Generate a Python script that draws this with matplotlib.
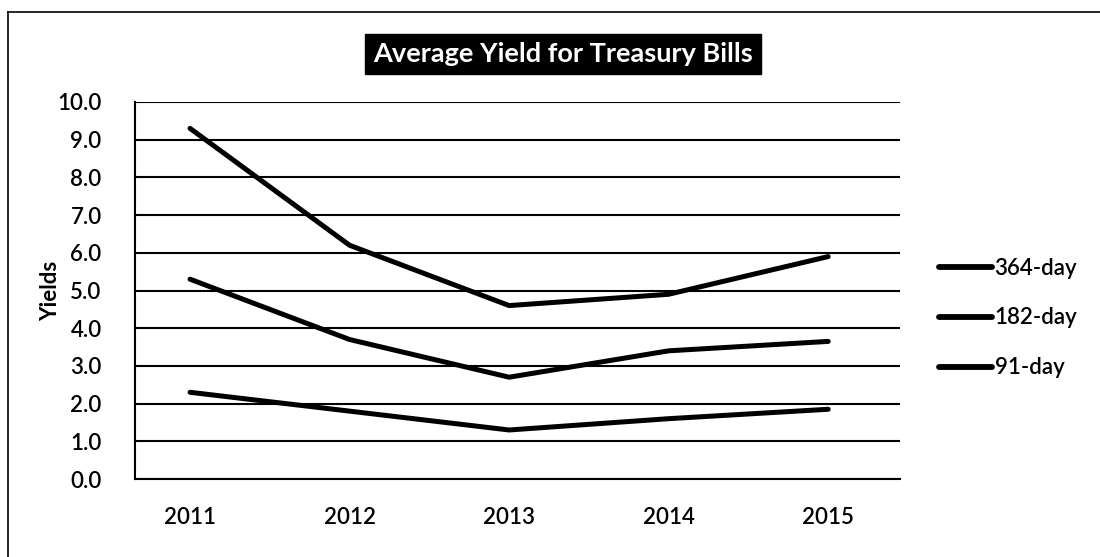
import matplotlib
matplotlib.use("Agg")
import matplotlib.pyplot as plt
from matplotlib.lines import Line2D

years = ["2011", "2012", "2013", "2014", "2015"]
series_names = ["364-day", "182-day", "91-day"]
yield_364 = [9.3, 6.2, 4.6, 4.9, 5.9]
yield_182 = [5.3, 3.7, 2.7, 3.4, 3.65]
yield_91 = [2.3, 1.8, 1.3, 1.6, 1.85]
yticks = [0, 1, 2, 3, 4, 5, 6, 7, 8, 9, 10]

plt.rcParams['font.family'] = ['Lato', 'DejaVu Sans']
FS = 16

fig = plt.figure(figsize=(11, 5.57), dpi=100)
ax = fig.add_axes([135/1100, 1-479/557, (900-135)/1100, (479-102)/557])

x = list(range(len(years)))
for vals, name in zip([yield_364, yield_182, yield_91], series_names):
    ax.plot(x, vals, color='black', lw=3.6, solid_capstyle='round', label=name, zorder=3)

ax.set_ylim(0, 10)
ax.set_xlim(-0.345, 4.45)
ax.set_yticks(yticks)
ax.set_yticklabels([f"{v:.1f}" for v in yticks], fontsize=FS, fontweight='semibold')
ax.set_xticks(x)
ax.set_xticklabels(years, fontsize=FS, fontweight='semibold')
ax.tick_params(axis='y', length=0, pad=24)
ax.tick_params(axis='x', length=0, pad=20)
ax.yaxis.grid(True, color='black', lw=1.5)
ax.set_axisbelow(True)
for s in ['top', 'right']:
    ax.spines[s].set_visible(False)
ax.spines['left'].set_linewidth(1.5)
ax.spines['bottom'].set_linewidth(1.5)
ax.set_ylabel("Yields", fontsize=FS, fontweight='bold', labelpad=-3)

fig.text(563/1100, 1-54/557, "Average Yield for Treasury Bills", color='white',
         fontsize=19.5, fontweight='bold', ha='center', va='center',
         bbox=dict(boxstyle='square,pad=0.3', fc='black', ec='black'))

handles = [Line2D([0], [0], color='black', lw=4.2, solid_capstyle='round') for _ in series_names]
fig.legend(handles, series_names, loc='center left', bbox_to_anchor=(919/1100, 1-318/557),
           frameon=False, handlelength=2.4, handletextpad=0.1, labelspacing=1.3,
           prop={'size': FS, 'weight': 'semibold'})

# chart border (top and left visible)
fig.add_artist(Line2D([8/1100, 1], [1-12/557, 1-12/557], color='black', lw=1.2, transform=fig.transFigure))
fig.add_artist(Line2D([8/1100, 8/1100], [0, 1-12/557], color='black', lw=1.2, transform=fig.transFigure))

fig.savefig("out.png", dpi=100)
